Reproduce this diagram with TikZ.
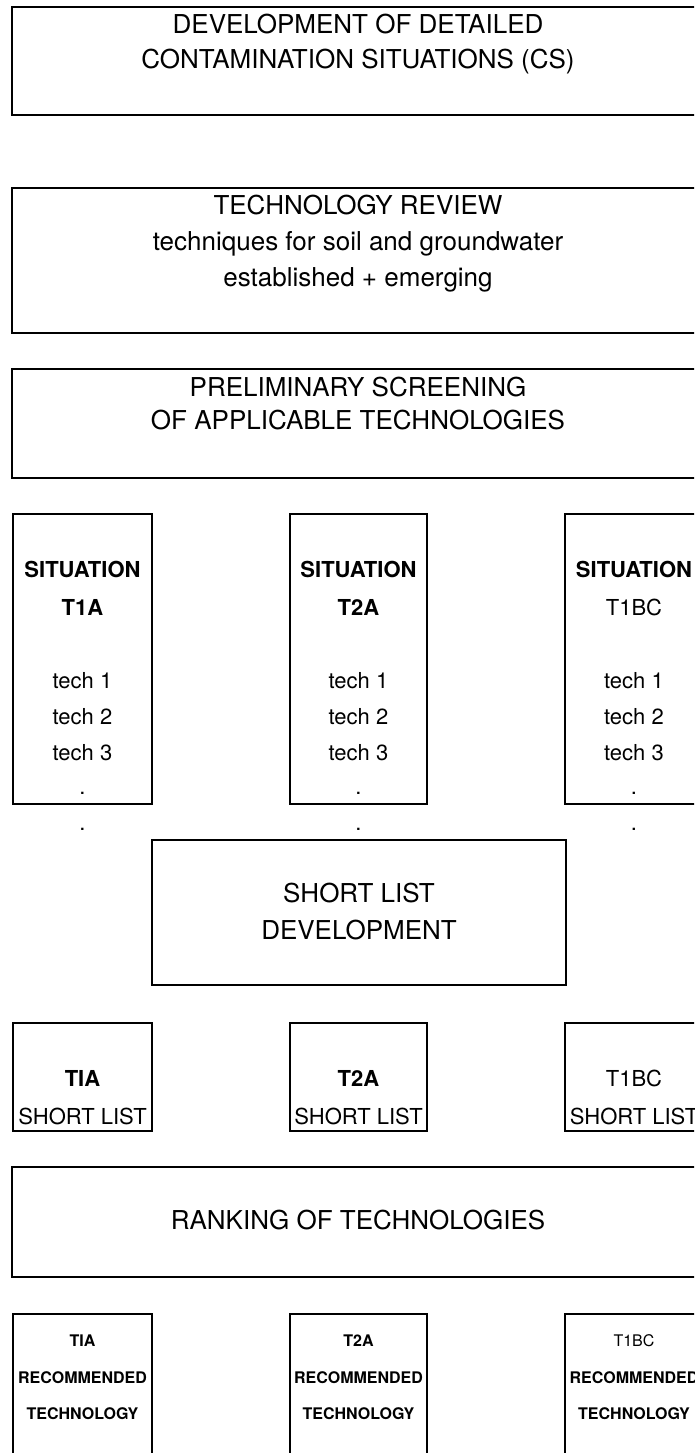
\documentclass[tikz,border=0pt]{standalone}
\usepackage{fontspec}
\setmainfont{TeX Gyre Heros}
\begin{document}
\begin{tikzpicture}[x=1pt,y=-1pt,
  box/.style={draw=black,line width=1.6pt,fill=none},
  big/.style={anchor=base,inner sep=0pt,font=\fontsize{26}{30}\selectfont},
  mid/.style={anchor=base,inner sep=0pt,font=\fontsize{22}{26}\selectfont},
  midb/.style={anchor=base,inner sep=0pt,font=\fontsize{22}{26}\selectfont\bfseries},
  sml/.style={anchor=base,inner sep=0pt,font=\fontsize{16}{19}\selectfont},
  smlb/.style={anchor=base,inner sep=0pt,font=\fontsize{16}{19}\selectfont\bfseries}]
\clip (0,0) rectangle (694,1453);
\fill[white] (0,0) rectangle (694,1453);

% wide boxes
\draw[box] (12,7) rectangle (706,115);
\node[big] (d1) at (358,34) {DEVELOPMENT OF DETAILED};
\node[big] (d2) at (358,69) {CONTAMINATION SITUATIONS (CS)};

\draw[box] (12,188) rectangle (706,333);
\node[big] (r1) at (358,214) {TECHNOLOGY REVIEW};
\node[big] (r2) at (358,250) {techniques for soil and groundwater};
\node[big] (r3) at (358,286) {established + emerging};

\draw[box] (12,369) rectangle (706,478);
\node[big] (p1) at (358,396) {PRELIMINARY SCREENING};
\node[big] (p2) at (358,429) {OF APPLICABLE TECHNOLOGIES};

% situation boxes
\foreach \cx/\lx/\rx/\nm/\st in {82.5/13/152/T1A/midb,358.5/290/427/T2A/midb,634/565/703/T1BC/mid}{
  \draw[box] (\lx,514) rectangle (\rx,804);
  \node[midb] (s-\nm) at (\cx,577) {SITUATION};
  \node[\st] (n-\nm) at (\cx,615) {\nm};
  \node[mid] (a-\nm) at (\cx,688) {tech 1};
  \node[mid] (b-\nm) at (\cx,724) {tech 2};
  \node[mid] (c-\nm) at (\cx,760) {tech 3};
  \node[mid] (e-\nm) at (\cx,794) {.};
  \node[mid] (f-\nm) at (\cx,830) {.};
}

% short list development
\draw[box] (152,840) rectangle (566,985);
\node[big] (sl1) at (359,902) {SHORT LIST};
\node[big] (sl2) at (359,939) {DEVELOPMENT};

% short list boxes
\foreach \cx/\lx/\rx/\nm/\st in {82.5/13/152/TIA/midb,358.5/290/427/T2A/midb,634/565/703/T1BC/mid}{
  \draw[box] (\lx,1023) rectangle (\rx,1131);
  \node[\st] (t-\nm) at (\cx,1086) {\nm};
  \node[mid] (u-\nm) at (\cx,1124) {SHORT LIST};
}

% ranking
\draw[box] (12,1167) rectangle (706,1277);
\node[big] (rk) at (358,1229) {RANKING OF TECHNOLOGIES};

% recommended boxes
\foreach \cx/\lx/\rx/\nm/\st in {82.5/13/152/TIA/smlb,358.5/290/427/T2A/smlb,634/565/703/T1BC/sml}{
  \draw[box] (\lx,1314) rectangle (\rx,1480);
  \node[\st] (x-\nm) at (\cx,1346) {\nm};
  \node[smlb] (y-\nm) at (\cx,1383) {RECOMMENDED};
  \node[smlb] (z-\nm) at (\cx,1419) {TECHNOLOGY};
}
\end{tikzpicture}
\end{document}
